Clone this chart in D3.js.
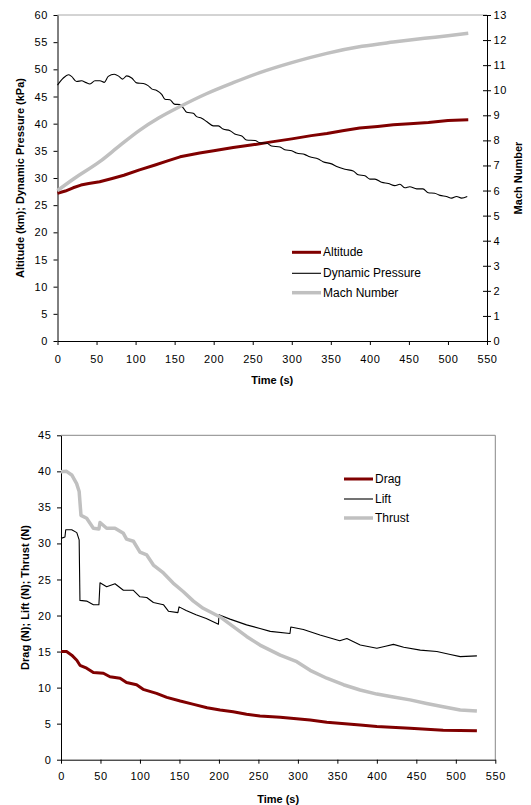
<!DOCTYPE html>
<html>
<head>
<meta charset="utf-8">
<script src="https://cdn.jsdelivr.net/npm/d3@7"></script>
<style>
body { margin: 0; background: #fff; }
svg { font-family: "Liberation Sans", Arial, sans-serif; }
</style>
</head>
<body>
<svg id="chart" width="531" height="805"></svg>
<script>
// ---- top panel data ----
const timeTicks = [0, 50, 100, 150, 200, 250, 300, 350, 400, 450, 500, 550];
const topLeftTicks = [0, 5, 10, 15, 20, 25, 30, 35, 40, 45, 50, 55, 60];
const machTicks = [0, 1, 2, 3, 4, 5, 6, 7, 8, 9, 10, 11, 12, 13];

const altTime = [0, 10, 20, 30, 40, 54, 70, 85, 105, 125, 140, 157, 182, 200, 225, 250, 272, 300, 325, 345, 365, 387, 410, 430, 451, 475, 500, 526];
const altitude = [27.2, 27.6, 28.2, 28.7, 29.0, 29.3, 29.9, 30.5, 31.5, 32.4, 33.1, 33.9, 34.6, 35.0, 35.6, 36.1, 36.6, 37.2, 37.8, 38.2, 38.7, 39.2, 39.5, 39.8, 40.0, 40.2, 40.6, 40.7];

const dpTime = [0, 7.5, 13.9, 18, 24.5, 31, 36, 41.6, 48, 54.4, 60, 65, 72.7, 78.7, 83.4, 88.6, 95, 101.4, 110, 116, 120.6, 127, 133.4, 137.6, 144, 149.6, 156.8, 161, 165.4, 173.9, 178.2, 184.6, 191, 199.5, 206, 212, 221, 227, 236, 242, 253, 259, 268, 274, 285, 291, 300, 306, 317, 323, 334, 340, 351, 357.5, 368, 378.7, 385, 393.7, 400, 406.5, 415, 423.6, 432, 438.5, 445, 451, 460, 468, 474.8, 483, 489.8, 498, 504.7, 511, 517.5, 524.7];
const dynamicPressure = [47.1, 48.4, 49.0, 48.7, 47.75, 47.9, 47.6, 47.3, 47.9, 47.9, 47.6, 48.7, 49.1, 48.7, 48.2, 48.8, 48.4, 47.5, 47.4, 47.0, 46.4, 46.1, 45.4, 44.5, 44.4, 43.6, 43.5, 42.9, 42.1, 41.9, 41.3, 41.0, 40.4, 39.6, 39.6, 39.0, 38.7, 38.1, 37.75, 37.0, 36.9, 36.5, 36.4, 35.9, 35.7, 35.2, 35.0, 34.6, 34.3, 33.9, 33.5, 33.0, 32.6, 32.1, 31.6, 31.3, 30.6, 30.4, 29.8, 29.8, 29.2, 29.0, 28.6, 28.85, 28.2, 28.4, 28.0, 28.0, 27.3, 27.2, 26.8, 26.6, 26.3, 26.6, 26.3, 26.6];

const machTime = [0, 20, 54, 80, 105, 130, 157, 190, 225, 259, 300, 345, 390, 430, 470, 500, 526];
const machNumber = [6.0, 6.45, 7.15, 7.8, 8.4, 8.9, 9.35, 9.85, 10.3, 10.7, 11.1, 11.47, 11.75, 11.92, 12.07, 12.17, 12.27];

const topSeriesNames = ['Altitude', 'Dynamic Pressure', 'Mach Number'];

// ---- bottom panel data ----
const bottomTicks = [0, 5, 10, 15, 20, 25, 30, 35, 40, 45];

const dragTime = [0, 7, 13.6, 20, 24, 32.5, 41, 53.7, 62, 74.8, 83, 95.7, 104, 121, 134, 151, 168, 185, 201.5, 218, 235, 252, 277.6, 315.5, 336.6, 378.8, 400, 442, 484, 526.7];
const drag = [15.0, 15.0, 14.5, 13.8, 13.1, 12.7, 12.1, 12.0, 11.5, 11.3, 10.7, 10.4, 9.76, 9.2, 8.65, 8.14, 7.68, 7.2, 6.9, 6.66, 6.3, 6.06, 5.88, 5.5, 5.2, 4.8, 4.6, 4.35, 4.1, 4.0];

const liftTime = [0, 5, 6, 13.6, 20, 23, 24, 32.5, 41, 48, 49.4, 57.8, 68.4, 79, 91.7, 100, 108.6, 117, 129.7, 136, 148, 149.5, 158.5, 171, 184, 199.4, 200, 214, 235, 252, 265, 290, 291, 307, 328, 353, 362, 379, 400, 411, 421, 434, 455, 476, 493, 505.6, 526.7];
const lift = [30.7, 30.9, 31.9, 31.9, 31.5, 30.5, 22.1, 22.0, 21.5, 21.5, 24.55, 24.0, 24.4, 23.5, 23.5, 22.6, 22.5, 21.8, 21.5, 20.6, 20.4, 21.2, 20.7, 20.1, 19.6, 18.8, 20.1, 19.5, 18.7, 18.2, 17.8, 17.5, 18.4, 18.05, 17.3, 16.5, 16.8, 15.9, 15.45, 15.75, 16.0, 15.6, 15.2, 15.0, 14.6, 14.3, 14.4];

const thrustTime = [0, 7, 13.6, 19.8, 23, 25.3, 32.5, 41, 48, 49.4, 57.8, 68.4, 79, 83, 91.7, 100, 108.6, 117, 129.7, 142, 155, 167.7, 180, 201.5, 235, 252, 277.6, 298.6, 315.5, 336.6, 357.7, 378.8, 400, 421, 442, 463, 484, 505.6, 526.7];
const thrust = [39.95, 40.0, 39.5, 38.3, 37.2, 33.9, 33.5, 32.1, 32.0, 32.9, 32.1, 32.1, 31.4, 30.6, 30.3, 28.8, 28.4, 27.0, 25.9, 24.5, 23.3, 22.0, 21.0, 19.8, 17.1, 15.9, 14.5, 13.6, 12.4, 11.3, 10.4, 9.67, 9.1, 8.7, 8.3, 7.8, 7.35, 6.9, 6.75];

const bottomSeriesNames = ['Drag', 'Lift', 'Thrust'];

const seriesStyles = [
    {color: '#800000', width: 3},
    {color: '#000000', width: 1.1},
    {color: '#c0c0c0', width: 3.5}
];

const svg = d3.select('#chart');

function toPoints(times, values) {
    return times.map((t, i) => ({t, v: values[i]}));
}

function styleTickText(g, size) {
    g.selectAll('text')
        .attr('font-family', '"Liberation Sans", Arial, sans-serif')
        .attr('font-size', size)
        .attr('letter-spacing', '0.6px')
        .attr('fill', '#000');
    g.selectAll('line').attr('stroke', '#000');
    g.select('.domain').attr('stroke', '#000');
}

function drawPanel(cfg) {
    const g = svg.append('g');
    const x = d3.scaleLinear().domain([0, 550]).range([cfg.left, cfg.right]);
    const y = d3.scaleLinear().domain(cfg.yDomain).range([cfg.bottom, cfg.top]);

    // frame lines (light gray)
    g.append('line')
        .attr('x1', cfg.left).attr('x2', cfg.right)
        .attr('y1', cfg.top).attr('y2', cfg.top)
        .attr('stroke', cfg.frameColor);
    if (!cfg.y2) {
        g.append('line')
            .attr('x1', cfg.right).attr('x2', cfg.right)
            .attr('y1', cfg.top).attr('y2', cfg.bottom)
            .attr('stroke', cfg.frameColor);
    }

    // axes
    const xAxis = d3.axisBottom(x).tickValues(timeTicks).tickSizeInner(4).tickSizeOuter(0).tickPadding(cfg.xPad);
    g.append('g')
        .attr('transform', `translate(0,${cfg.bottom})`)
        .call(xAxis)
        .call(a => styleTickText(a, 11));

    const yAxis = d3.axisLeft(y).tickValues(cfg.yTicks).tickSizeInner(4).tickSizeOuter(0).tickPadding(5.5);
    g.append('g')
        .attr('transform', `translate(${cfg.left},0)`)
        .call(yAxis)
        .call(a => styleTickText(a, 11));

    let y2;
    if (cfg.y2) {
        y2 = d3.scaleLinear().domain(cfg.y2.domain).range([cfg.bottom, cfg.top]);
        const rAxis = d3.axisRight(y2).tickValues(cfg.y2.ticks).tickSizeInner(4).tickSizeOuter(0).tickPadding(2.5);
        g.append('g')
            .attr('transform', `translate(${cfg.right},0)`)
            .call(rAxis)
            .call(a => styleTickText(a, 11))
            .call(a => a.selectAll('.tick line').attr('x1', -4).attr('x2', 4));
    }

    // lines
    cfg.series.forEach((s, i) => {
        const ys = s.axis === 2 ? y2 : y;
        const line = d3.line()
            .x(d => x(d.t))
            .y(d => ys(d.v))
            .curve(s.curve || d3.curveLinear);
        g.append('path')
            .datum(toPoints(s.time, s.values))
            .attr('fill', 'none')
            .attr('stroke', seriesStyles[i].color)
            .attr('stroke-width', seriesStyles[i].width)
            .attr('stroke-linejoin', 'round')
            .attr('d', line);
    });

    // legend
    const leg = g.append('g');
    cfg.names.forEach((name, i) => {
        const ly = cfg.legend.y[i];
        leg.append('line')
            .attr('x1', cfg.legend.x).attr('x2', cfg.legend.x + 29)
            .attr('y1', ly).attr('y2', ly)
            .attr('stroke', seriesStyles[i].color)
            .attr('stroke-width', seriesStyles[i].width);
        leg.append('text')
            .attr('x', cfg.legend.x + 31)
            .attr('y', ly + 4)
            .attr('font-size', 12)
            .text(name);
    });

    // axis titles
    g.append('text')
        .attr('x', (cfg.left + cfg.right) / 2)
        .attr('y', cfg.xTitleY)
        .attr('text-anchor', 'middle')
        .attr('font-size', 11)
        .attr('font-weight', 'bold')
        .text('Time (s)');

    g.append('text')
        .attr('transform', `translate(${cfg.yTitleX},${(cfg.top + cfg.bottom) / 2}) rotate(-90)`)
        .attr('text-anchor', 'middle')
        .attr('font-size', 11)
        .attr('font-weight', 'bold')
        .text(cfg.yTitle);

    if (cfg.y2) {
        g.append('text')
            .attr('transform', `translate(${cfg.y2.titleX},${(cfg.top + cfg.bottom) / 2}) rotate(-90)`)
            .attr('text-anchor', 'middle')
            .attr('font-size', 11)
            .attr('font-weight', 'bold')
            .text(cfg.y2.title);
    }
}

drawPanel({
    left: 57.5, right: 487, top: 15, bottom: 341,
    yDomain: [0, 60], yTicks: topLeftTicks,
    frameColor: '#a8a8a8',
    xPad: 10, xTitleY: 384,
    yTitle: 'Altitude (km); Dynamic Pressure (kPa)', yTitleX: 24,
    y2: {domain: [0, 13], ticks: machTicks, title: 'Mach Number', titleX: 522},
    names: topSeriesNames,
    legend: {x: 292, y: [252.3, 273.3, 292.7]},
    series: [
        {time: altTime, values: altitude},
        {time: dpTime, values: dynamicPressure, curve: d3.curveMonotoneX},
        {time: machTime, values: machNumber, axis: 2, curve: d3.curveMonotoneX}
    ]
});

drawPanel({
    left: 61, right: 495.3, top: 435.3, bottom: 759.7,
    yDomain: [0, 45], yTicks: bottomTicks,
    frameColor: '#888888',
    xPad: 9, xTitleY: 803,
    yTitle: 'Drag (N); Lift (N); Thrust (N)', yTitleX: 29,
    names: bottomSeriesNames,
    legend: {x: 344, y: [479, 499, 518]},
    series: [
        {time: dragTime, values: drag},
        {time: liftTime, values: lift},
        {time: thrustTime, values: thrust}
    ]
});
</script>
</body>
</html>
